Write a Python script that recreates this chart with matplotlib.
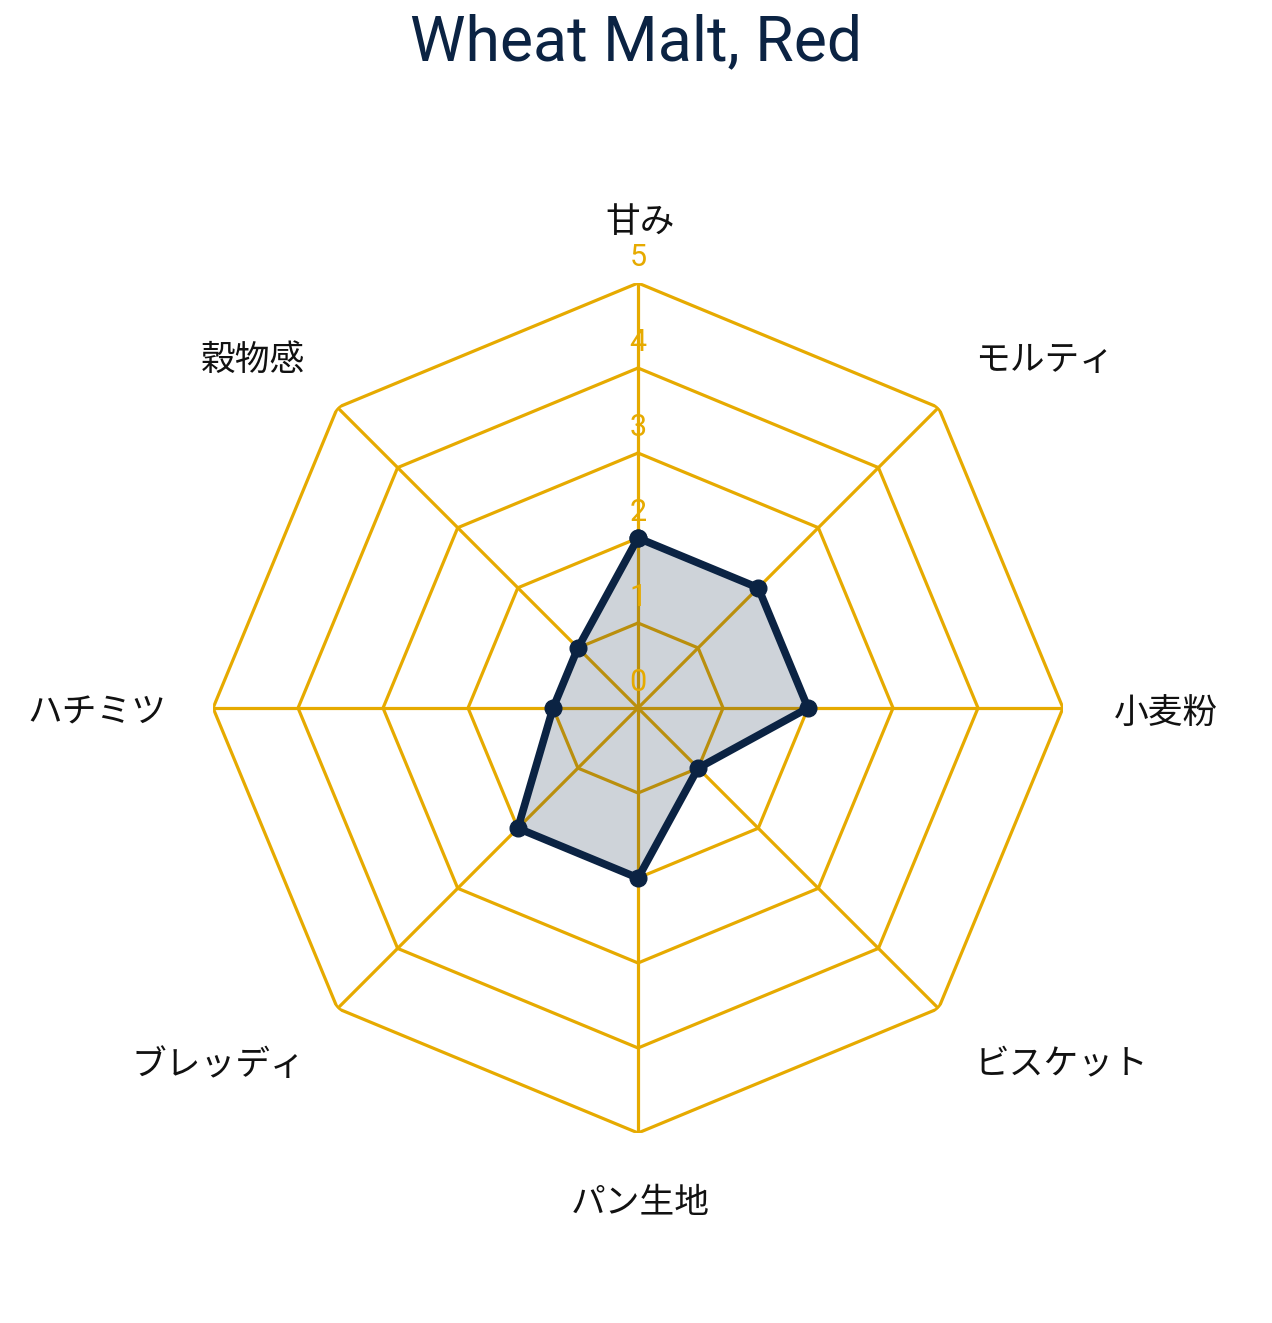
import numpy as np
import matplotlib
matplotlib.use("Agg")
import matplotlib.pyplot as plt
import matplotlib.transforms as mtransforms

plt.rcParams['font.family'] = ['Noto Sans CJK JP', 'DejaVu Sans']

############ DATA ########################
title = "Wheat Malt, Red"
categories = ["甘み", "モルティ", "小麦粉", "ビスケット", "パン生地", "ブレッディ", "ハチミツ", "穀物感"]
values = [2, 2, 2, 1, 2, 2, 1, 1]
ticks = [0, 1, 2, 3, 4, 5]

gold = "#E6AA00"
navy = "#0B2343"

n = len(categories)
angles = np.linspace(0, 2 * np.pi, n, endpoint=False)
closed = np.append(angles, angles[0])

fig = plt.figure(figsize=(12.72, 13.23), dpi=100)
ax = fig.add_axes([0.1675, 0.1436, 0.6682, 0.6425], projection="polar")
ax.set_theta_offset(np.pi / 2)
ax.set_theta_direction(-1)
ax.set_ylim(0, 5)
ax.grid(False)
ax.spines["polar"].set_visible(False)
ax.set_xticks([])
ax.set_yticks([])
ax.patch.set_alpha(0)

# polygon rings and spokes
for r in ticks[1:]:
    ax.plot(closed, [r] * (n + 1), color=gold, lw=2.3, zorder=1)
for a in angles:
    ax.plot([a, a], [0, 5], color=gold, lw=2.3, zorder=1)

# data
vals = values + values[:1]
ax.fill(closed, vals, color=navy, alpha=0.2, lw=0, zorder=2)
ax.plot(closed, vals, color=navy, lw=5.5, marker="o", markersize=12, zorder=3)

# tick labels along the top spoke
for r in ticks:
    ax.text(0, r + 0.13, str(r), color=gold, fontsize=22, ha="center", va="bottom",
            family=["Roboto", "DejaVu Sans"], zorder=4)

# category labels (nudged down a few pixels)
shift = mtransforms.offset_copy(ax.transData, fig=fig, x=2, y=-5, units="dots")
for a, lab in zip(angles, categories):
    s, c = np.sin(a), np.cos(a)
    ha = "center" if abs(s) < 0.1 else ("left" if s > 0 else "right")
    va = "center" if abs(c) < 0.1 else ("bottom" if c > 0 else "top")
    ax.text(a, 5.57, lab, fontsize=25, color="#111111", ha=ha, va=va, transform=shift)

fig.text(0.5, 0.967, title, fontsize=45, color=navy, ha="center", va="center",
         family=["Roboto", "DejaVu Sans"])

fig.savefig("out.png", dpi=100)
